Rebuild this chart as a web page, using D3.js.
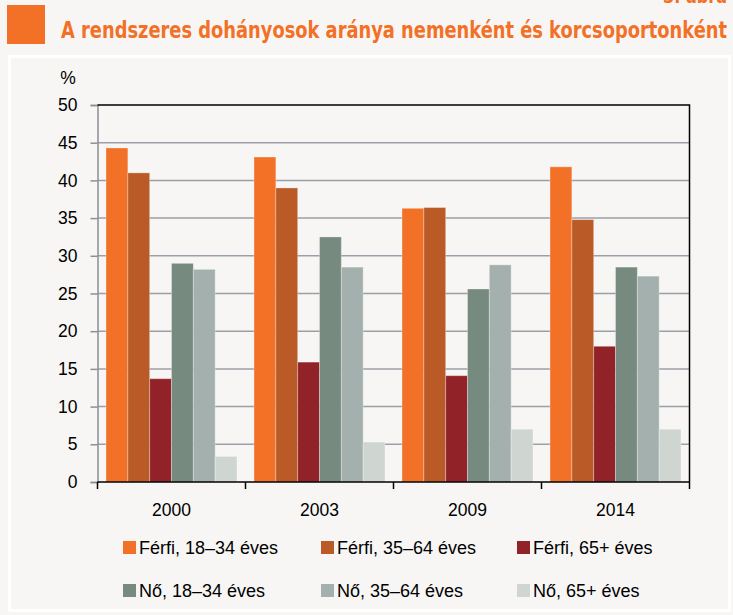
<!DOCTYPE html>
<html>
<head>
<meta charset="utf-8">
<script src="https://cdn.jsdelivr.net/npm/d3@7"></script>
<style>
    body { margin: 0; background: #f7f6f4; }
    svg { display: block; font-family: "Liberation Sans", Arial, sans-serif; }
</style>
</head>
<body>
<div id="container"></div>
<script>
"use strict"

/* DATA
 */
const years = ["2000", "2003", "2009", "2014"];
const seriesNames = ["Férfi, 18–34 éves", "Férfi, 35–64 éves", "Férfi, 65+ éves",
                     "Nő, 18–34 éves", "Nő, 35–64 éves", "Nő, 65+ éves"];
const ferfi1834 = [44.3, 43.1, 36.3, 41.8];
const ferfi3564 = [41.0, 39.0, 36.4, 34.8];
const ferfi65 = [13.7, 15.9, 14.1, 18.0];
const no1834 = [29.0, 32.5, 25.6, 28.5];
const no3564 = [28.2, 28.5, 28.8, 27.3];
const no65 = [3.4, 5.3, 7.0, 7.0];
const yTicks = [0, 5, 10, 15, 20, 25, 30, 35, 40, 45, 50];
const colors = ["#f37027", "#b95a27", "#912228", "#778a80", "#a3b0ad", "#cfd6d2"];

const seriesValues = [ferfi1834, ferfi3564, ferfi65, no1834, no3564, no65];

/* SETUP
 */
const W = 733, H = 615;
const plot = {left: 97.5, right: 689.5, top: 105, bottom: 482};

const svg = d3.select("#container").append("svg")
    .attr("width", W)
    .attr("height", H);

// frame and title
svg.append("rect")
    .attr("x", 9.5).attr("y", 56.5)
    .attr("width", 720).attr("height", 554)
    .attr("fill", "none")
    .attr("stroke", "#ffffff")
    .attr("stroke-width", 3);

svg.append("rect")
    .attr("x", 7).attr("y", 5)
    .attr("width", 38).attr("height", 39)
    .attr("fill", "#f37027");

svg.append("text")
    .attr("x", 61).attr("y", 37.5)
    .attr("textLength", 666)
    .attr("lengthAdjust", "spacingAndGlyphs")
    .style("font-family", "'Liberation Sans Narrow', 'DejaVu Sans Condensed', sans-serif")
    .style("font-weight", "bold")
    .style("font-size", "23px")
    .attr("fill", "#f37027")
    .text("A rendszeres dohányosok aránya nemenként és korcsoportonként");

// figure number, cut off at the top edge as in the source
svg.append("text")
    .attr("x", 663).attr("y", 2.5)
    .attr("textLength", 64)
    .attr("lengthAdjust", "spacingAndGlyphs")
    .style("font-family", "'Liberation Sans Narrow', 'DejaVu Sans Condensed', sans-serif")
    .style("font-weight", "bold")
    .style("font-size", "20px")
    .attr("fill", "#f37027")
    .text("3. ábra");

/* SCALES
 */
const x = d3.scaleBand()
    .domain(years)
    .range([plot.left, plot.right])
    .padding(0);

const xInner = d3.scaleBand()
    .domain(d3.range(seriesNames.length))
    .range([0, x.bandwidth()])
    .paddingInner(0)
    .paddingOuter(0.39);

const y = d3.scaleLinear()
    .domain([0, 50])
    .range([plot.bottom, plot.top]);

/* GRID AND AXES
 */
svg.append("g")
    .selectAll("line")
    .data(yTicks.filter((d) => d > 0 && d < 50))
    .enter().append("line")
    .attr("x1", plot.left).attr("x2", plot.right)
    .attr("y1", (d) => y(d)).attr("y2", (d) => y(d))
    .attr("stroke", "#9c9fa8")
    .attr("stroke-width", 1.5);

const yAxis = svg.append("g")
    .attr("transform", `translate(${plot.left},0)`)
    .call(d3.axisLeft(y).tickValues(yTicks).tickSize(7).tickPadding(13));
yAxis.select(".domain").attr("stroke", "#8d8f96").attr("stroke-width", 1.5);
yAxis.selectAll(".tick line").attr("stroke", "#8d8f96").attr("stroke-width", 1.5);
yAxis.selectAll(".tick text")
    .style("font-size", "17.5px")
    .style("font-family", "'Liberation Sans', Arial, sans-serif")
    .attr("fill", "#000");

svg.append("text")
    .attr("x", 68).attr("y", 84)
    .attr("text-anchor", "middle")
    .style("font-size", "17.5px")
    .text("%");

/* BARS
 */
const groups = svg.append("g")
    .selectAll(".node")
    .data(years)
    .enter().append("g")
    .attr("class", "node")
    .attr("transform", (d) => `translate(${x(d)},0)`);

groups.selectAll("rect")
    .data((d, i) => seriesValues.map((vals, s) => ({s: s, v: vals[i]})))
    .enter().append("rect")
    .attr("x", (d) => xInner(d.s))
    .attr("width", xInner.bandwidth())
    .attr("y", (d) => y(d.v))
    .attr("height", (d) => y(0) - y(d.v))
    .attr("fill", (d) => colors[d.s])
    .attr("stroke", "rgba(255,255,255,0.3)")
    .attr("stroke-width", 1);

// plot box: top and right in black
svg.append("path")
    .attr("d", `M${plot.left},${plot.top}H${plot.right}V${plot.bottom}`)
    .attr("fill", "none")
    .attr("stroke", "#000")
    .attr("stroke-width", 1.5);

// bottom axis with ticks between the categories
const xAxis = svg.append("g")
    .attr("transform", `translate(0,${plot.bottom})`);
xAxis.append("line")
    .attr("x1", plot.left).attr("x2", plot.right)
    .attr("stroke", "#000").attr("stroke-width", 1.5);
xAxis.selectAll(".sep")
    .data(years.map((d) => x(d)).concat([x.range()[1]]))
    .enter().append("line")
    .attr("class", "sep")
    .attr("x1", (d) => d).attr("x2", (d) => d)
    .attr("y1", 0).attr("y2", 7)
    .attr("stroke", "#000").attr("stroke-width", 1.5);
xAxis.selectAll(".lbl")
    .data(years)
    .enter().append("text")
    .attr("class", "lbl")
    .attr("x", (d) => x(d) + x.bandwidth() / 2)
    .attr("y", 34)
    .attr("text-anchor", "middle")
    .style("font-size", "17.5px")
    .text((d) => d);

/* LEGEND
 */
const legendX = [123, 321, 517];
const legendY = [541, 584];
const legend = svg.append("g")
    .selectAll("g")
    .data(seriesNames)
    .enter().append("g")
    .attr("transform", (d, i) =>
        `translate(${legendX[i % 3]},${legendY[Math.floor(i / 3)]})`);

legend.append("rect")
    .attr("width", 13).attr("height", 13)
    .attr("fill", (d, i) => colors[i]);

legend.append("text")
    .attr("x", 16).attr("y", 12.5)
    .style("font-size", "18px")
    .text((d) => d);
</script>
</body>
</html>
